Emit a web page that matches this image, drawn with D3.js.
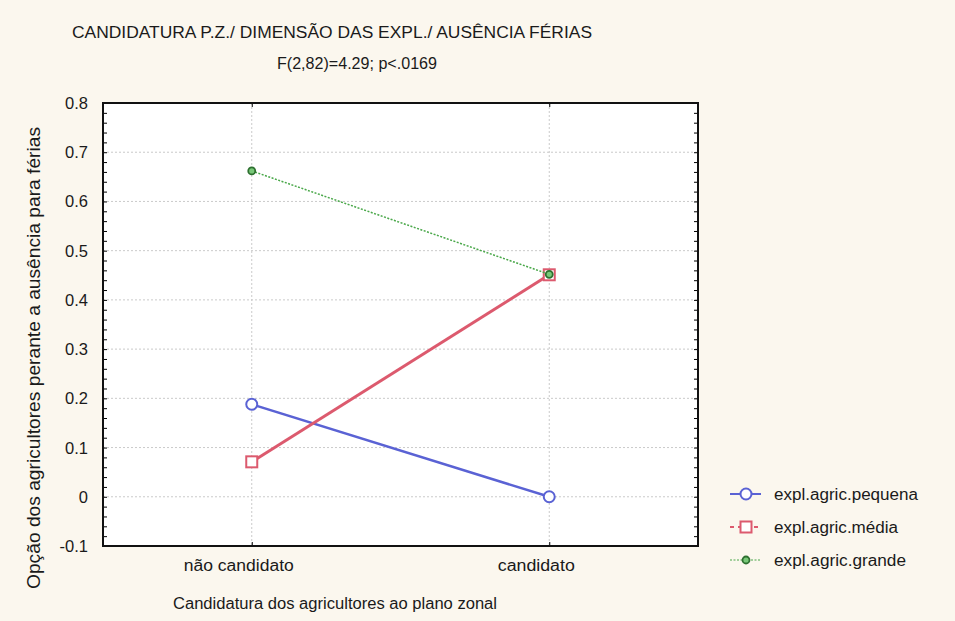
<!DOCTYPE html>
<html lang="pt">
<head>
  <meta charset="UTF-8">
  <title>Candidatura P.Z. / Dimensão das expl. / Ausência férias</title>
  <script src="https://d3js.org/d3.v7.min.js"></script>
  <style>
    body {
      margin: 0;
      background: #fbf7ee;
      font-family: 'Liberation Sans', Arial, sans-serif;
    }
    svg { display: block; }
    .grid line { stroke: #cacaca; stroke-dasharray: 2,2; stroke-width: 1; }
    .lbl { fill: #1a1a1a; font-size: 16px; }
  </style>
</head>
<body>
<svg id="chart" width="955" height="621"></svg>
<script>
  // data
  var categories = ["não candidato", "candidato"];
  var seriesNames = ["expl.agric.pequena", "expl.agric.média", "expl.agric.grande"];
  var pequena = [0.188, 0.0];
  var media = [0.071, 0.451];
  var grande = [0.662, 0.452];
  var yTicks = [0.8, 0.7, 0.6, 0.5, 0.4, 0.3, 0.2, 0.1, 0, -0.1];

  var series = [
    {name: seriesNames[0], values: pequena, color: "#5a62d4", width: 2.5, dash: null, marker: "circle"},
    {name: seriesNames[1], values: media, color: "#dc5a6e", width: 3, dash: null, marker: "square"},
    {name: seriesNames[2], values: grande, color: "#4aa84a", width: 1.5, dash: "2,1.5", marker: "dot"}
  ];

  var svg = d3.select("#chart");
  var pLeft = 103, pRight = 698, pTop = 103, pBottom = 546;

  var x = d3.scalePoint().domain(categories).range([pLeft, pRight]).padding(0.5);
  var y = d3.scaleLinear().domain([-0.1, 0.8]).range([pBottom, pTop]);

  svg.append("rect")
    .attr("x", pLeft).attr("y", pTop)
    .attr("width", pRight - pLeft).attr("height", pBottom - pTop)
    .attr("fill", "#fff");

  // grid
  var grid = svg.append("g").attr("class", "grid");
  grid.selectAll(".h").data(yTicks.filter(d => d > -0.1 && d < 0.8)).join("line")
    .attr("x1", pLeft).attr("x2", pRight)
    .attr("y1", d => y(d)).attr("y2", d => y(d));
  grid.selectAll(".v").data(categories).join("line")
    .attr("x1", d => x(d)).attr("x2", d => x(d))
    .attr("y1", pTop).attr("y2", pBottom);

  // inner minor ticks on left and right, category ticks on top and bottom
  var minor = d3.range(-0.1, 0.8001, 0.02);
  svg.append("g").attr("transform", `translate(${pLeft},0)`)
    .call(d3.axisRight(y).tickValues(minor).tickSize(4).tickFormat(""))
    .call(g => g.select(".domain").remove());
  svg.append("g").attr("transform", `translate(${pRight},0)`)
    .call(d3.axisLeft(y).tickValues(minor).tickSize(4).tickFormat(""))
    .call(g => g.select(".domain").remove());
  svg.append("g").attr("transform", `translate(0,${pTop})`)
    .call(d3.axisBottom(x).tickSize(4).tickFormat(""))
    .call(g => g.select(".domain").remove());
  svg.append("g").attr("transform", `translate(0,${pBottom})`)
    .call(d3.axisTop(x).tickSize(4).tickFormat(""))
    .call(g => g.select(".domain").remove());

  svg.append("rect")
    .attr("x", pLeft).attr("y", pTop)
    .attr("width", pRight - pLeft).attr("height", pBottom - pTop)
    .attr("fill", "none").attr("stroke", "#111").attr("stroke-width", 2);

  // y tick labels (plain hyphen for the negative, as in the original)
  svg.selectAll(".ylab").data(yTicks).join("text")
    .attr("class", "lbl")
    .attr("x", 88).attr("y", d => y(d) + 6)
    .attr("text-anchor", "end")
    .style("font-size", "16.5px")
    .text(d => d === 0 ? "0" : d.toFixed(1));

  // x tick labels
  var xLabLen = [110, 77];
  svg.selectAll(".xlab").data(categories).join("text")
    .attr("class", "lbl")
    .attr("x", d => x(d) - 13).attr("y", 571)
    .attr("text-anchor", "middle")
    .attr("textLength", (d, i) => xLabLen[i])
    .attr("lengthAdjust", "spacingAndGlyphs")
    .text(d => d);

  // titles
  svg.append("text").attr("class", "lbl").attr("x", 332).attr("y", 38)
    .attr("text-anchor", "middle")
    .attr("textLength", 520).attr("lengthAdjust", "spacingAndGlyphs")
    .text("CANDIDATURA P.Z./ DIMENSÃO DAS EXPL./ AUSÊNCIA FÉRIAS");
  svg.append("text").attr("class", "lbl").attr("x", 357).attr("y", 69)
    .attr("text-anchor", "middle")
    .attr("textLength", 160).attr("lengthAdjust", "spacingAndGlyphs")
    .text("F(2,82)=4.29; p<.0169");
  svg.append("text").attr("class", "lbl").attr("x", 335).attr("y", 609)
    .attr("text-anchor", "middle")
    .attr("textLength", 324).attr("lengthAdjust", "spacingAndGlyphs")
    .text("Candidatura dos agricultores ao plano zonal");
  svg.append("text").attr("class", "lbl")
    .attr("transform", "translate(40,358) rotate(-90)")
    .attr("text-anchor", "middle").style("font-size", "18px")
    .attr("textLength", 462).attr("lengthAdjust", "spacingAndGlyphs")
    .text("Opção dos agricultores perante a ausência para férias");

  var line = d3.line().x((d, i) => x(categories[i])).y(d => y(d));

  function drawMarker(g, s, cx, cy) {
    if (s.marker === "circle") {
      g.append("circle").attr("cx", cx).attr("cy", cy).attr("r", 5.5)
        .attr("fill", "#fff").attr("stroke", s.color).attr("stroke-width", 2);
    } else if (s.marker === "square") {
      g.append("rect").attr("x", cx - 5.5).attr("y", cy - 5.5).attr("width", 11).attr("height", 11)
        .attr("fill", "#fff").attr("stroke", s.color).attr("stroke-width", 2);
    } else {
      g.append("circle").attr("cx", cx).attr("cy", cy).attr("r", 3.5)
        .attr("fill", "#78c878").attr("stroke", "#2e7030").attr("stroke-width", 1.8);
    }
  }

  series.forEach(s => {
    var g = svg.append("g");
    g.append("path").attr("d", line(s.values))
      .attr("fill", "none").attr("stroke", s.color)
      .attr("stroke-width", s.width)
      .attr("stroke-dasharray", s.dash);
    s.values.forEach((v, i) => drawMarker(g, s, x(categories[i]), y(v)));
  });

  // legend
  var legY = [494, 527, 560];
  var legLen = [144, 124, 132];
  series.forEach((s, i) => {
    var g = svg.append("g");
    g.append("line").attr("x1", 730).attr("x2", 761)
      .attr("y1", legY[i]).attr("y2", legY[i])
      .attr("stroke", s.color).attr("stroke-width", s.marker === "dot" ? 1.2 : 2)
      .attr("stroke-dasharray", s.marker === "square" ? "4,4" : s.dash);
    drawMarker(g, s, 746, legY[i]);
    g.append("text").attr("class", "lbl").attr("x", 774).attr("y", legY[i] + 6)
      .attr("textLength", legLen[i]).attr("lengthAdjust", "spacingAndGlyphs")
      .text(s.name);
  });
</script>
</body>
</html>
